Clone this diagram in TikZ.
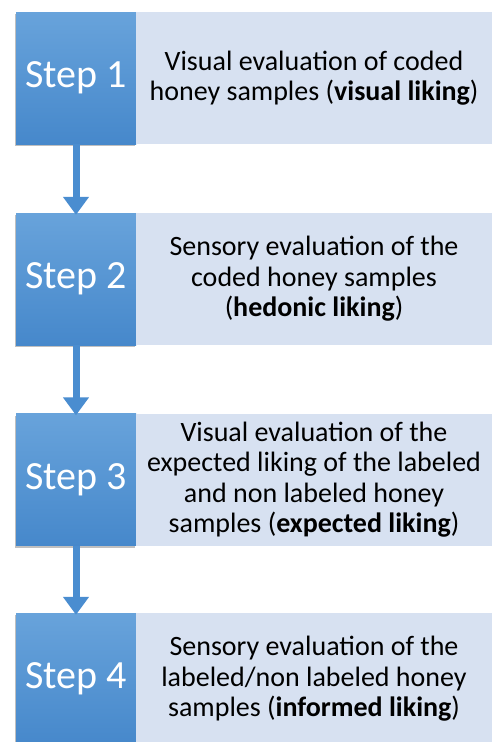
\documentclass[tikz,border=0pt]{standalone}
\usepackage{fontspec}
\setmainfont{Carlito}
\usetikzlibrary{arrows.meta,shadows,positioning}
\definecolor{steptop}{HTML}{68A3DB}
\definecolor{stepbot}{HTML}{4688CB}
\definecolor{descfill}{HTML}{D7E1F1}
\definecolor{arrowblue}{HTML}{4A8DD0}
\tikzset{
  stepbox/.style={rectangle, minimum width=120pt, minimum height=132pt, inner sep=0pt,
    top color=steptop, bottom color=stepbot, draw=none, text=white,
    font=\fontsize{40}{44}\selectfont,
    drop shadow={shadow xshift=-1pt, shadow yshift=-2pt, opacity=0.25, fill=black}},
  descbox/.style={rectangle, minimum width=356pt, minimum height=132pt, inner sep=0pt,
    fill=descfill, draw=none, text=black, align=center,
    font=\fontsize{28}{30.5}\selectfont},
  flowarrow/.style={draw=arrowblue, line width=7pt,
    -{Triangle[width=25pt,length=18pt,fill=arrowblue]}, shorten >=-2pt},
  x=1pt, y=1pt
}
\begin{document}
\begin{tikzpicture}
\clip (0,0) rectangle (493,-742);
\fill[white] (0,0) rectangle (493,-742);
% step boxes
\node[stepbox] (s1) at (76,-78) {Step 1};
\node[stepbox] (s2) at (76,-279) {Step 2};
\node[stepbox] (s3) at (76,-479.5) {Step 3};
\node[stepbox] (s4) at (76,-679) {Step 4};
% description boxes
\node[descbox] (d1) at (314,-78) {Visual evaluation of coded\\honey samples (\textbf{visual liking})};
\node[descbox] (d2) at (314,-279) {Sensory evaluation of the\\coded honey samples\\(\textbf{hedonic liking})};
\node[descbox] (d3) at (314,-479.5) {Visual evaluation of the\\expected liking of the labeled\\and non labeled honey\\samples (\textbf{expected liking})};
\node[descbox] (d4) at (314,-679) {Sensory evaluation of the\\labeled/non labeled honey\\samples (\textbf{informed liking})};
% arrows
\draw[flowarrow] (s1.south) -- (s2.north);
\draw[flowarrow] (s2.south) -- (s3.north);
\draw[flowarrow] (s3.south) -- (s4.north);
\end{tikzpicture}
\end{document}
